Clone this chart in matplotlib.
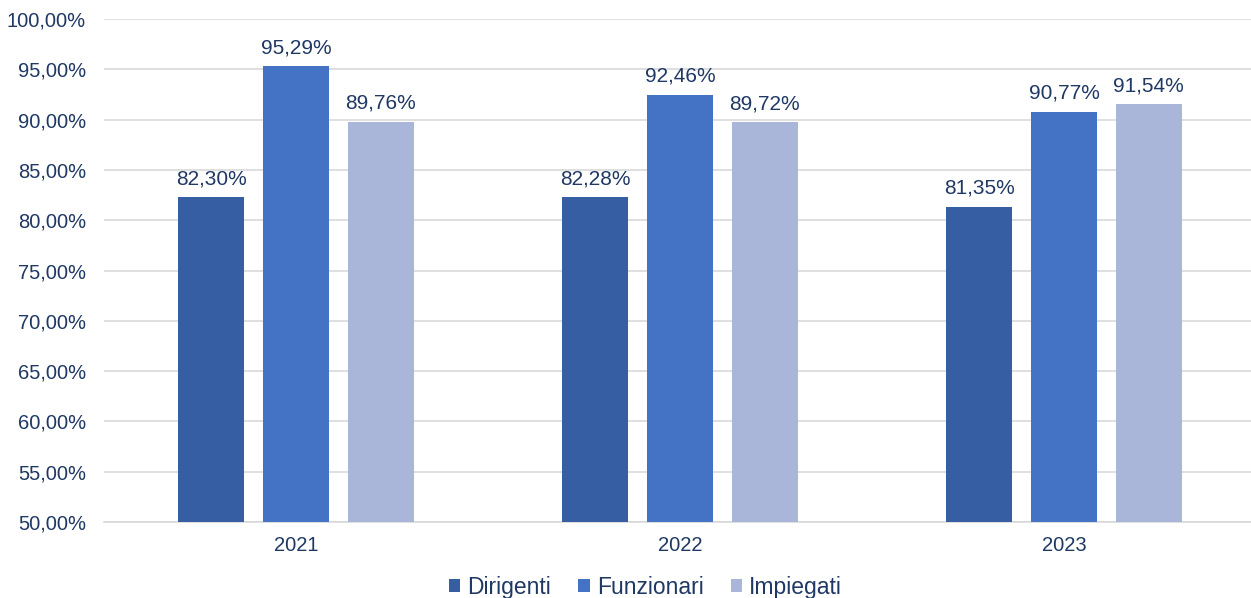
import numpy as np
import matplotlib.pyplot as plt
from matplotlib.ticker import FuncFormatter

years = ["2021", "2022", "2023"]
series = ["Dirigenti", "Funzionari", "Impiegati"]
dirigenti = [82.30, 82.28, 81.35]
funzionari = [95.29, 92.46, 90.77]
impiegati = [89.76, 89.72, 91.54]

COLORS = ["#365FA3", "#4472C4", "#A9B6DA"]
TXT = "#1F3864"

plt.rcParams["font.family"] = ["Liberation Sans", "DejaVu Sans"]

fig = plt.figure(figsize=(12.51, 5.98), dpi=100)
ax = fig.add_axes([0.0831, 0.1271, 0.9209, 0.8411])

x = np.arange(len(years))
step = 0.221
width = 0.172
for i, (name, vals) in enumerate(zip(series, [dirigenti, funzionari, impiegati])):
    pos = x + (i - 1) * step
    ax.bar(pos, np.array(vals) - 50, bottom=50, width=width,
           color=COLORS[i], label=name, zorder=3)
    for xp, v in zip(pos, vals):
        ax.text(xp, v + 0.9, f"{v:.2f}%".replace(".", ","), ha="center",
                va="bottom", fontsize=15, color=TXT)

ax.set_xlim(-0.5, 2.5)
ax.set_ylim(50, 100)
ax.set_yticks(np.arange(50, 100.1, 5))
ax.yaxis.set_major_formatter(FuncFormatter(lambda v, _: f"{v:.2f}%".replace(".", ",")))
ax.set_xticks(x)
ax.set_xticklabels(years)
ax.tick_params(axis="both", length=0, labelsize=14.5, labelcolor=TXT)
ax.tick_params(axis="x", pad=10)
ax.tick_params(axis="y", pad=13)
ax.grid(axis="y", color="#D9D9D9", linewidth=1.2, zorder=0)
for s in ["top", "right", "left"]:
    ax.spines[s].set_visible(False)
ax.spines["bottom"].set_color("#D9D9D9")
ax.spines["bottom"].set_linewidth(1.2)

leg = ax.legend(loc="center", bbox_to_anchor=(0.470, -0.13), ncol=3,
                frameon=False, fontsize=16.5, handlelength=0.5, handleheight=0.5,
                handletextpad=0.3, columnspacing=1.2, borderpad=0, borderaxespad=0)
for t in leg.get_texts():
    t.set_color(TXT)

fig.savefig("out.png", dpi=100)
